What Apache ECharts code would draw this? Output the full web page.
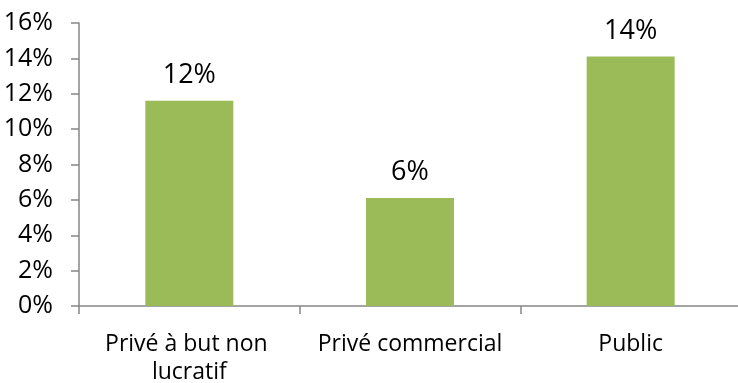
<!DOCTYPE html>
<html>
<head>
<meta charset="utf-8">
<script src="https://cdn.jsdelivr.net/npm/echarts@6/dist/echarts.min.js"></script>
<style>html,body{margin:0;padding:0;background:#fff}#c{width:738px;height:383px}</style>
</head>
<body>
<div id="c"></div>
<script>
const categories = ["Privé à but non lucratif", "Privé commercial", "Public"];
const values = [11.6, 6.1, 14.1];
const yTicks = { min: 0, max: 16, interval: 2 };

const FONT = "Open Sans";
const chart = echarts.init(document.getElementById('c'), null, { renderer: 'canvas' });
chart.setOption({
  animation: false,
  backgroundColor: '#ffffff',
  grid: { left: 79, top: 23, width: 662, height: 283, containLabel: false, outerBoundsMode: 'none' },
  xAxis: {
    type: 'category',
    data: categories,
    axisLine: { lineStyle: { color: '#868686', width: 1.5 } },
    axisTick: { show: true, length: 8, alignWithLabel: false, lineStyle: { color: '#868686', width: 1.5 } },
    axisLabel: {
      color: '#000', fontFamily: FONT, fontSize: 23, margin: 24,
      width: 205, overflow: 'break', lineHeight: 28, interval: 0
    },
    splitLine: { show: false }
  },
  yAxis: {
    type: 'value',
    min: yTicks.min, max: yTicks.max, interval: yTicks.interval,
    axisLine: { show: true, lineStyle: { color: '#868686', width: 1.5 } },
    axisTick: { show: true, length: 8, lineStyle: { color: '#868686', width: 1.5 } },
    axisLabel: { color: '#000', fontFamily: FONT, fontSize: 25, margin: 26, formatter: v => v + '%' },
    splitLine: { show: false }
  },
  series: [{
    type: 'bar',
    data: values,
    barWidth: 88,
    itemStyle: { color: '#9BBB59' },
    label: {
      show: true, position: 'top', distance: 12,
      color: '#000', fontFamily: FONT, fontSize: 27,
      formatter: p => Math.round(p.value) + '%'
    }
  }]
});
</script>
</body>
</html>
